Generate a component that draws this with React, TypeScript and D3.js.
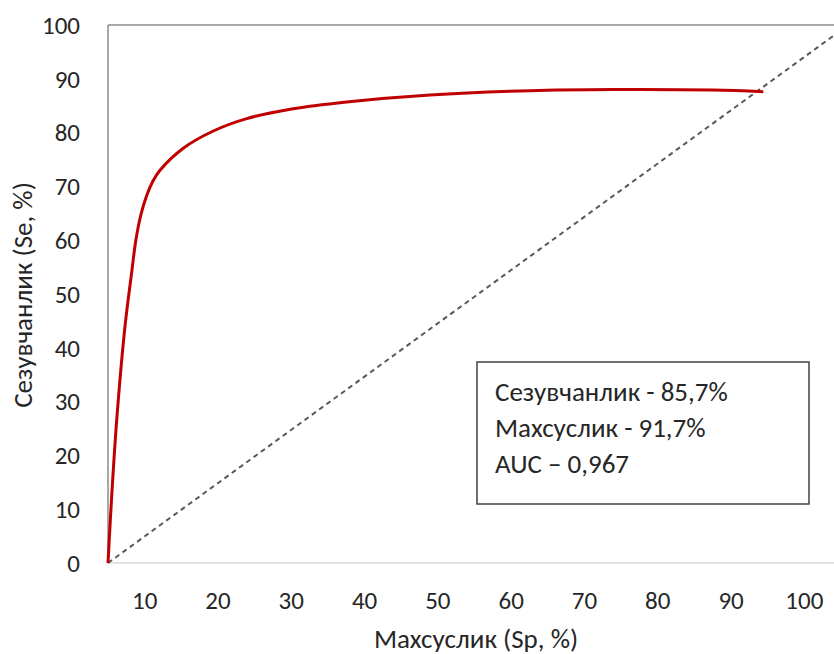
import React from "react";
import * as d3 from "d3";

// ROC curve points: specificity-axis value (x) and sensitivity (y), in %
const rocX = [5, 5.5, 6.19, 7.32, 8.23, 8.8, 9.5, 10.28, 11.1, 12.09, 15.27, 19.37, 23.92, 30.06, 37.56, 48.93, 62.57, 73.9, 87.5, 94.4];
const rocY = [0, 12.3, 26.6, 44.0, 54.0, 60.0, 64.8, 68.3, 70.9, 73.0, 77.1, 80.3, 82.6, 84.4, 85.7, 87.0, 87.8, 88.0, 87.9, 87.6];

// Reference diagonal
const diagX = [5, 106];
const diagY = [0, 100];

const xTicks = [10, 20, 30, 40, 50, 60, 70, 80, 90, 100];
const yTicks = [0, 10, 20, 30, 40, 50, 60, 70, 80, 90, 100];

const xTitle = "Махсуслик (Sp, %)";
const yTitle = "Сезувчанлик (Se, %)";
const boxLines = ["Сезувчанлик - 85,7%", "Махсуслик - 91,7%", "AUC – 0,967"];

const W = 834;
const H = 654;
const FONT = "Carlito, Calibri, 'Open Sans', sans-serif";

export default function App() {
  const left = 108;
  const top = 25;
  const bottom = 563;
  const right = 841;

  const x = d3.scaleLinear().domain([5, 105]).range([left, right]);
  const y = d3.scaleLinear().domain([0, 100]).range([bottom, top]);

  const rocPts: [number, number][] = rocX.map((v, i) => [v, rocY[i]]);
  const diagPts: [number, number][] = diagX.map((v, i) => [v, diagY[i]]);

  const line = d3
    .line<[number, number]>()
    .x((d) => x(d[0]))
    .y((d) => y(d[1]))
    .curve(d3.curveCatmullRom.alpha(0.5));
  const straight = d3
    .line<[number, number]>()
    .x((d) => x(d[0]))
    .y((d) => y(d[1]));

  return (
    <div style={{ position: "absolute", left: 0, top: 0 }}>
      <svg width={W} height={H} style={{ display: "block", background: "#fff" }} fontFamily={FONT}>
        <defs>
          <clipPath id="plotclip">
            <rect x={left - 2} y={top - 2} width={right - left + 4} height={bottom - top + 4} />
          </clipPath>
        </defs>
        {/* plot area border */}
        <line x1={left} x2={W} y1={top} y2={top} stroke="#8c8c8c" strokeWidth={1.5} />
        <line x1={left} x2={left} y1={top} y2={bottom} stroke="#8c8c8c" strokeWidth={1.5} />
        <line x1={left} x2={W} y1={bottom} y2={bottom} stroke="#d9d9d9" strokeWidth={1.5} />

        <g clipPath="url(#plotclip)">
          <path d={straight(diagPts) || ""} fill="none" stroke="#595959" strokeWidth={2} strokeDasharray="5,4" />
          <path d={line(rocPts) || ""} fill="none" stroke="#C00000" strokeWidth={3} />
        </g>

        {/* y tick labels */}
        {yTicks.map((t) => (
          <text key={"y" + t} x={80} y={y(t)} dy="0.35em" textAnchor="end" fontSize={25} fill="#262626">
            {t}
          </text>
        ))}
        {/* x tick labels */}
        {xTicks.map((t) => (
          <text key={"x" + t} x={x(t)} y={600} dy="0.35em" textAnchor="middle" fontSize={25} fill="#262626">
            {t}
          </text>
        ))}

        {/* axis titles */}
        <text x={476} y={648} textAnchor="middle" fontSize={27} fill="#262626">
          {xTitle}
        </text>
        <text
          transform={`translate(32,295) rotate(-90)`}
          textAnchor="middle"
          fontSize={27}
          fill="#262626"
        >
          {yTitle}
        </text>

        {/* annotation box */}
        <rect x={477} y={362} width={332} height={142} fill="#fff" stroke="#404040" strokeWidth={1.5} />
        {boxLines.map((s, i) => (
          <text key={s} x={495} y={401 + i * 36} fontSize={27} fill="#262626">
            {s}
          </text>
        ))}
      </svg>
    </div>
  );
}
